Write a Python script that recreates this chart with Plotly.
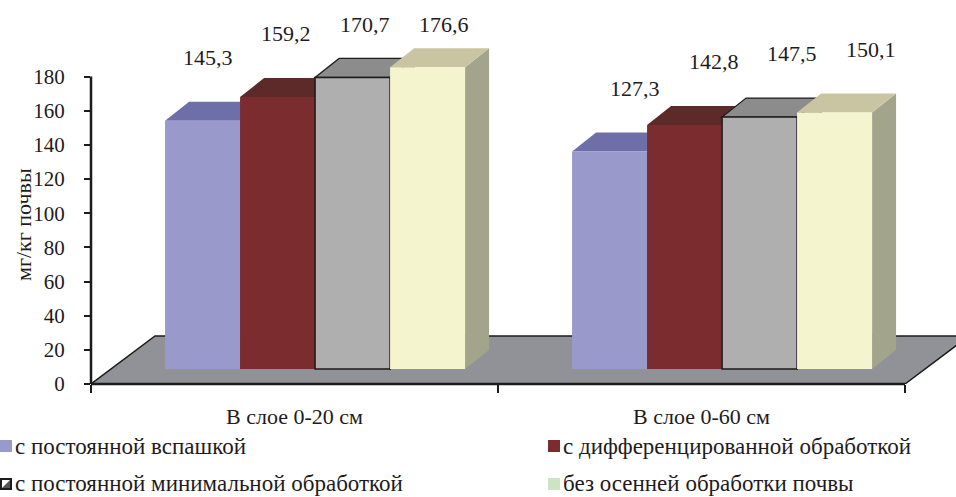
import plotly.graph_objects as go

# ---- data -------------------------------------------------------------
categories = ["В слое 0-20 см", "В слое 0-60 см"]
series_names = [
    "с постоянной вспашкой",
    "с дифференцированной обработкой",
    "с постоянной минимальной обработкой",
    "без осенней обработки почвы",
]
ploughing = [145.3, 127.3]
differentiated = [159.2, 142.8]
minimal = [170.7, 147.5]
no_autumn = [176.6, 150.1]
series_values = [ploughing, differentiated, minimal, no_autumn]
y_ticks = list(range(0, 181, 20))
y_title = "мг/кг почвы"

# ---- page geometry ----------------------------------------------------
W, H = 956, 497
ML, MR, MT, MB = 91, 0, 20, 113
PLOT_W, PLOT_H = W - ML - MR, H - MT - MB
PX_PER_CAT = 407.0       # pixels per category on the x axis
PX_PER_UNIT = 1.708      # pixels per mg/kg on the y axis
X_RANGE = [-0.5, -0.5 + PLOT_W / PX_PER_CAT]
Y_RANGE = [0, PLOT_H / PX_PER_UNIT]

def px_x(px):
    return (px - ML) / PLOT_W

def px_y(py):
    return (H - MB - py) / PLOT_H

# 3-D look: bars stand inside a tilted floor
BAR_W = 75 / PX_PER_CAT
FIRST_OFFSET = -0.318
BASE = 8.8                      # bars stand a little behind the floor front edge
DEPTH_X = 24 / PX_PER_CAT       # bar depth vector
DEPTH_Y = 19 / PX_PER_UNIT
FLOOR_DX = 64 / PX_PER_CAT      # floor depth vector
FLOOR_DY = 48 / PX_PER_UNIT

front_colors = ["#9999CC", "#7B2C2F", "#C0C0C0", "#F4F4CF"]
top_colors = ["#6E6EA8", "#5B2A29", "#8C8C8C", "#C9C5A2"]
side_colors = ["#5E5E94", "#4A2222", "#777777", "#A2A48C"]
legend_colors = ["#9999CC", "#7B2C2F", None, "#CDE3C6"]
INK = "#1E1B1C"
FONT = "Liberation Serif, Times New Roman, serif"

fig = go.Figure()
shapes = []
annotations = []

# floor
fx0, fx1 = -0.5, 1.5
shapes.append(dict(
    type="path", xref="x", yref="y", layer="below",
    path=(f"M {fx0},0 L {fx1},0 L {fx1 + FLOOR_DX},{FLOOR_DY} "
          f"L {fx0 + FLOOR_DX},{FLOOR_DY} Z"),
    fillcolor="#909297", line=dict(color=INK, width=1.5),
))

group_pos = list(range(len(categories)))

for i, (name, vals) in enumerate(zip(series_names, series_values)):
    offset = FIRST_OFFSET + i * BAR_W
    marker = dict(color=front_colors[i], line=dict(width=0))
    if i == 2:
        marker = dict(
            color=front_colors[i],
            pattern=dict(shape=".", size=2, solidity=0.4,
                         fgcolor="#505050", bgcolor="#EAEAEA", fillmode="replace"),
            line=dict(color=INK, width=1.5),
        )
    fig.add_trace(go.Bar(
        x=group_pos, y=vals, base=[BASE] * len(vals), name=name,
        offset=offset, width=BAR_W, marker=marker, showlegend=False,
    ))
    edge = dict(color=INK, width=1.2) if i == 2 else dict(width=0)
    for g, v in zip(group_pos, vals):
        x0 = g + offset
        x1 = x0 + BAR_W
        yt = BASE + v
        # right side face
        shapes.append(dict(
            type="path", xref="x", yref="y", layer="below",
            path=(f"M {x1},{BASE} L {x1},{yt} L {x1 + DEPTH_X},{yt + DEPTH_Y} "
                  f"L {x1 + DEPTH_X},{BASE + DEPTH_Y} Z"),
            fillcolor=side_colors[i], line=edge,
        ))
        # top face
        shapes.append(dict(
            type="path", xref="x", yref="y", layer="below",
            path=(f"M {x0},{yt} L {x1},{yt} L {x1 + DEPTH_X},{yt + DEPTH_Y} "
                  f"L {x0 + DEPTH_X},{yt + DEPTH_Y} Z"),
            fillcolor=top_colors[i], line=edge,
        ))
        # value label, kept inside the chart area
        cx = x0 + BAR_W / 2
        lx = cx + 5 / PX_PER_CAT + 0.05 * (cx + 0.227)
        ly = min(v + 46, 210.2)
        annotations.append(dict(
            x=lx, y=ly, xref="x", yref="y", text=f"{v:.1f}".replace(".", ","),
            showarrow=False, font=dict(family=FONT, size=22, color=INK),
            xanchor="center", yanchor="middle",
        ))

# axis lines
shapes.append(dict(type="line", xref="paper", yref="y", x0=0, x1=0, y0=0, y1=y_ticks[-1],
                   line=dict(color=INK, width=2.5)))
shapes.append(dict(type="line", xref="x", yref="paper", x0=-0.5, x1=1.5, y0=0, y1=0,
                   line=dict(color=INK, width=2.5)))

# y axis title
annotations.append(dict(
    x=px_x(23), y=px_y(225), xref="paper", yref="paper", text=y_title,
    textangle=-90, showarrow=False, font=dict(family=FONT, size=22, color=INK),
    xanchor="center", yanchor="middle",
))

# legend, two columns
legend_pos = [(0, 446), (548, 446), (0, 484), (548, 484)]
for (lx, ly), name, col in zip(legend_pos, series_names, legend_colors):
    sq = 12
    if col is None:
        shapes.append(dict(type="rect", xref="paper", yref="paper",
                           x0=px_x(lx + 1), x1=px_x(lx + 1 + sq - 2),
                           y0=px_y(ly + sq / 2 - 1), y1=px_y(ly - sq / 2 + 1),
                           fillcolor="#FFFFFF", line=dict(color=INK, width=2)))
        shapes.append(dict(type="path", xref="paper", yref="paper",
                           path=(f"M {px_x(lx + 2)},{px_y(ly + sq / 2 - 2)} "
                                 f"L {px_x(lx + sq - 2)},{px_y(ly - sq / 2 + 2)} "
                                 f"L {px_x(lx + sq - 2)},{px_y(ly + sq / 2 - 2)} Z"),
                           fillcolor="#555555", line=dict(width=0)))
    else:
        shapes.append(dict(type="rect", xref="paper", yref="paper",
                           x0=px_x(lx), x1=px_x(lx + sq),
                           y0=px_y(ly + sq / 2), y1=px_y(ly - sq / 2),
                           fillcolor=col, line=dict(width=0)))
    annotations.append(dict(
        x=px_x(lx + sq + 1), y=px_y(ly), xref="paper", yref="paper", text=name,
        showarrow=False, font=dict(family=FONT, size=23, color=INK),
        xanchor="left", yanchor="middle",
    ))

fig.update_layout(
    width=W, height=H,
    margin=dict(l=ML, r=MR, t=MT, b=MB, pad=0),
    paper_bgcolor="white", plot_bgcolor="white",
    barmode="overlay", showlegend=False,
    font=dict(family=FONT, color=INK),
    xaxis=dict(
        range=X_RANGE, tickmode="array", tickvals=group_pos, ticktext=categories,
        ticks="", showgrid=False, zeroline=False, showline=False,
        tickfont=dict(family=FONT, size=22, color=INK), ticklabelstandoff=17,
        minor=dict(tickmode="array", tickvals=[-0.5, 0.5, 1.5], ticks="outside",
                   ticklen=8, tickwidth=2, tickcolor=INK, showgrid=False),
    ),
    yaxis=dict(
        range=Y_RANGE, tickmode="array", tickvals=y_ticks,
        ticks="outside", ticklen=6, tickwidth=2, tickcolor=INK,
        showgrid=False, zeroline=False, showline=False,
        tickfont=dict(family=FONT, size=21, color=INK), ticklabelstandoff=15,
    ),
    shapes=shapes, annotations=annotations,
)

fig.write_html("out.html")
